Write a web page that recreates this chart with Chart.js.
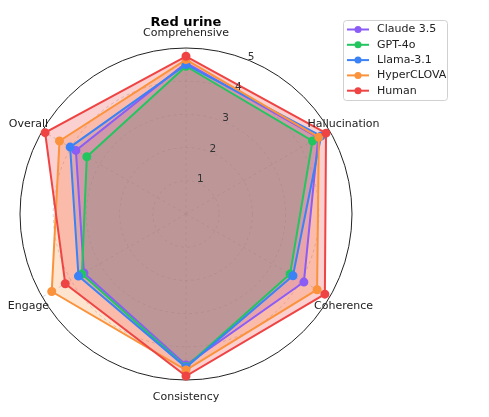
<!DOCTYPE html>
<html lang="en">
<head>
    <meta charset="UTF-8">
    <title>Red urine</title>
    <script src="https://cdn.jsdelivr.net/npm/chart.js"></script>
    <style>
        body { margin: 0; background: #fff; }
        #wrap { width: 489px; height: 417px; }
    </style>
</head>
<body>
    <div id="wrap">
        <canvas id="radarChart" width="489" height="417"></canvas>
    </div>

    <script>
        // Data
        const axisLabels = ['Comprehensive', 'Hallucination', 'Coherence', 'Consistency', 'Engage', 'Overall'];
        const tickValues = [1, 2, 3, 4, 5];
        const modelNames = ['Claude 3.5', 'GPT-4o', 'Llama-3.1', 'HyperCLOVA', 'Human'];
        const claudeScores = [4.55, 4.60, 4.10, 4.55, 3.55, 3.83];
        const gptScores = [4.45, 4.40, 3.62, 4.60, 3.62, 3.45];
        const llamaScores = [4.50, 4.70, 3.72, 4.62, 3.74, 4.03];
        const hyperScores = [4.65, 4.62, 4.56, 4.70, 4.67, 4.40];
        const humanScores = [4.75, 4.87, 4.83, 4.88, 4.20, 4.90];
        const modelColors = ['#8b5cf6', '#22c55e', '#3b82f6', '#fb923c', '#ef4444'];

        const allScores = [claudeScores, gptScores, llamaScores, hyperScores, humanScores];
        const FONT = '"DejaVu Sans", sans-serif';

        function withAlpha(hex, a) {
            const n = parseInt(hex.slice(1), 16);
            return 'rgba(' + (n >> 16) + ',' + ((n >> 8) & 255) + ',' + (n & 255) + ',' + a + ')';
        }

        const datasets = modelNames.map((name, i) => ({
            label: name,
            data: allScores[i],
            borderColor: modelColors[i],
            backgroundColor: withAlpha(modelColors[i], 0.25),
            pointBackgroundColor: modelColors[i],
            pointBorderColor: modelColors[i],
            pointRadius: 3.5,
            borderWidth: 2,
            fill: true,
            order: modelNames.length - i   // later series drawn on top
        }));

        // labels around the circle, tick numbers at 22.5 deg, legend box
        const overlay = {
            id: 'overlay',
            afterDraw(chart) {
                const ctx = chart.ctx;
                const r = chart.scales.r;
                ctx.save();
                ctx.fillStyle = '#222';
                ctx.font = '11px ' + FONT;
                ctx.textAlign = 'center';
                ctx.textBaseline = 'middle';
                axisLabels.forEach((lab, i) => {
                    const p = r.getPointPositionForValue(i, 5.48);
                    ctx.fillText(lab, p.x, p.y + 1);
                });

                ctx.font = '10.5px ' + FONT;
                ctx.fillStyle = '#333';
                const a = 22.5 * Math.PI / 180;
                tickValues.forEach(v => {
                    const d = r.getDistanceFromCenterForValue(v) + 4;
                    ctx.fillText(String(v), r.xCenter + d * Math.sin(a), r.yCenter - d * Math.cos(a));
                });

                // legend
                const bx = 343.5, by = 20.5, bw = 104, bh = 80;
                ctx.fillStyle = 'rgba(255,255,255,0.8)';
                ctx.strokeStyle = '#d0d0d0';
                ctx.lineWidth = 1;
                ctx.beginPath();
                ctx.roundRect(bx, by, bw, bh, 3);
                ctx.fill();
                ctx.stroke();
                ctx.font = '11px ' + FONT;
                ctx.textAlign = 'left';
                modelNames.forEach((name, i) => {
                    const y = 29.5 + i * 15.3;
                    ctx.strokeStyle = modelColors[i];
                    ctx.lineWidth = 2;
                    ctx.beginPath();
                    ctx.moveTo(347, y);
                    ctx.lineTo(369, y);
                    ctx.stroke();
                    ctx.fillStyle = modelColors[i];
                    ctx.beginPath();
                    ctx.arc(358, y, 3.5, 0, Math.PI * 2);
                    ctx.fill();
                    ctx.fillStyle = '#222';
                    ctx.fillText(name, 377, y);
                });
                ctx.restore();
            }
        };

        new Chart(document.getElementById('radarChart'), {
            type: 'radar',
            data: { labels: axisLabels, datasets: datasets },
            options: {
                responsive: false,
                animation: false,
                layout: { padding: { left: 20, right: 137, top: 11, bottom: 36 } },
                plugins: {
                    legend: { display: false },
                    tooltip: { enabled: false },
                    filler: { drawTime: 'beforeDatasetsDraw' },
                    title: {
                        display: true,
                        text: 'Red urine',
                        color: '#000',
                        font: { family: FONT, size: 13, weight: 'bold' },
                        padding: { top: 4, bottom: 18 }
                    }
                },
                scales: {
                    r: {
                        min: 0,
                        max: 5,
                        ticks: { display: false, stepSize: 1, showLabelBackdrop: false },
                        pointLabels: { display: false },
                        grid: {
                            circular: true,
                            color: ctx => ctx.tick && ctx.tick.value === 5 ? '#222' : 'rgba(180,180,180,0.6)',
                            lineWidth: 1
                        },
                        border: {
                            dash: ctx => ctx.tick && ctx.tick.value === 5 ? [] : [3, 3]
                        },
                        angleLines: {
                            color: 'rgba(180,180,180,0.6)',
                            lineWidth: 1,
                            borderDash: [3, 3]
                        }
                    }
                }
            },
            plugins: [overlay]
        });
    </script>
</body>
</html>
